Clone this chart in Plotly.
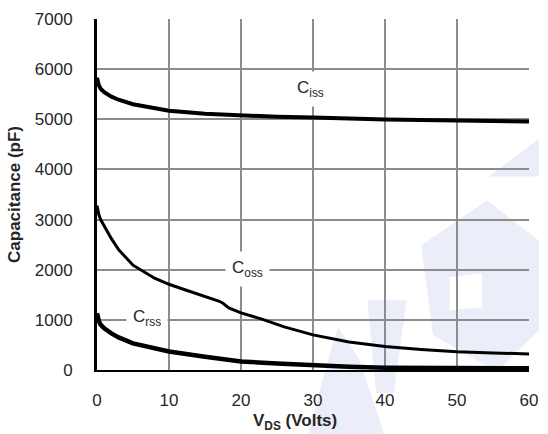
import plotly.graph_objects as go

# ---- data ----
v_iss = [0, 0.1, 0.25, 0.5, 1, 2, 3, 5, 7, 10, 15, 20, 25, 30, 40, 50, 60]
c_iss = [5830, 5760, 5680, 5610, 5540, 5450, 5390, 5300, 5240, 5170, 5110, 5075, 5050, 5035, 4995, 4975, 4955]

v_oss = [0, 0.1, 0.25, 0.5, 1, 2, 3, 5, 8, 10, 12, 15, 17, 17.5, 18.3, 20, 23, 26, 30, 35, 40, 45, 50, 55, 60]
c_oss = [3280, 3190, 3100, 3000, 2870, 2620, 2400, 2090, 1830, 1710, 1610, 1470, 1370, 1330, 1240, 1140, 1010, 860, 700, 560, 470, 410, 365, 340, 320]

v_rss = [0, 0.1, 0.25, 0.5, 1, 2, 3, 5, 7, 10, 15, 20, 25, 30, 35, 40, 50, 60]
c_rss = [1130, 1050, 980, 905, 830, 730, 650, 530, 460, 370, 265, 170, 130, 90, 65, 46, 38, 33]

x_ticks = [0, 10, 20, 30, 40, 50, 60]
y_ticks = [0, 1000, 2000, 3000, 4000, 5000, 6000, 7000]

FONT = "Liberation Sans, Arial, sans-serif"
TXT = "#262626"
WM = "#ebeef8"

fig = go.Figure()
fig.add_trace(go.Scatter(x=v_iss, y=c_iss, mode="lines", line=dict(color="black", width=4), showlegend=False))
fig.add_trace(go.Scatter(x=v_oss, y=c_oss, mode="lines", line=dict(color="black", width=3), showlegend=False))
fig.add_trace(go.Scatter(x=v_rss, y=c_rss, mode="lines", line=dict(color="black", width=4.5), showlegend=False))

ann = dict(showarrow=False, bgcolor="white", font=dict(family=FONT, size=17, color=TXT))
fig.add_annotation(x=29.6, y=5600, text="C<sub>iss</sub>", borderpad=6, **ann)
fig.add_annotation(x=20.9, y=2020, text="C<sub>oss</sub>", borderpad=6, **ann)
fig.add_annotation(x=6.9, y=1030, text="C<sub>rss</sub>", borderpad=6, **ann)

# ---- faint background watermark (pixel polygons -> paper coords) ----
def px(pts):
    path = ""
    for i, (x, y) in enumerate(pts):
        xp = (x - 97) / 441
        yp = (370 - y) / 352
        path += ("M" if i == 0 else "L") + f"{xp:.4f},{yp:.4f} "
    return path + "Z"

wm_polys = [
    [(497, 176), (548, 138), (548, 176)],
    [(428, 245), (495, 200), (548, 240), (548, 330), (505, 372), (440, 335)],
    [(373, 300), (413, 300), (400, 393), (382, 393)],
    [(343, 327), (365, 360), (390, 434), (313, 434), (330, 370)],
]
for poly in wm_polys:
    fig.add_shape(type="path", xref="paper", yref="paper", path=px(poly),
                  fillcolor=WM, line=dict(width=0), layer="below")
fig.add_shape(type="path", xref="paper", yref="paper",
              path=px([(457, 277), (490, 273), (490, 307), (457, 310)]),
              fillcolor="white", line=dict(width=0), layer="below")

fig.update_layout(
    width=548, height=434,
    margin=dict(l=97, r=10, t=18, b=64),
    paper_bgcolor="white", plot_bgcolor="rgba(0,0,0,0)",
    font=dict(family=FONT, size=17, color=TXT),
    xaxis=dict(range=[0, 60], tickvals=x_ticks, showgrid=True, gridcolor="#8c8c8c", gridwidth=2,
               zeroline=False, showline=True, linecolor="black", linewidth=2,
               ticks="", ticklabelstandoff=14, tickfont=dict(size=17, color=TXT)),
    yaxis=dict(range=[0, 7000], tickvals=y_ticks, showgrid=True, gridcolor="#8c8c8c", gridwidth=2,
               zeroline=False, showline=True, linecolor="black", linewidth=3,
               ticks="", ticklabelstandoff=18, tickfont=dict(size=17, color=TXT),
               title=dict(text="<b>Capacitance (pF)</b>", font=dict(size=17, color=TXT), standoff=10)),
)
fig.add_annotation(xref="paper", yref="paper", x=(299 - 97) / 441, y=-(422 - 370) / 352,
                   text="<b>V<sub>DS</sub> (Volts)</b>", showarrow=False,
                   font=dict(family=FONT, size=17, color=TXT), yanchor="middle")

fig.write_html("out.html")
